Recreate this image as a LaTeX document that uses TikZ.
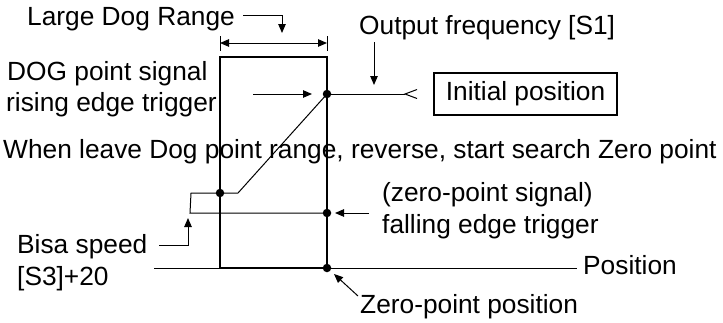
\documentclass[tikz,border=0pt]{standalone}
\usepackage{fontspec}
\setmainfont{Liberation Sans}
\usetikzlibrary{arrows.meta}
\begin{document}
\begin{tikzpicture}[x=1pt,y=-1pt,
  lbl/.style={anchor=base west,inner sep=0pt,font=\fontsize{26.3}{31}\selectfont},
  thin/.style={line width=1pt},
  frame/.style={line width=1.3pt},
  arr/.style={thin,-{Triangle[length=9pt,width=7.5pt]}},
  dot/.style={circle,fill=black,inner sep=0pt,minimum size=8.5pt}]
\useasboundingbox (0,0) rectangle (723,322);
% texts
\node[lbl] (tlarge) at (27,25) {Large Dog Range};
\node[lbl] (tout) at (359,34) {Output frequency [S1]};
\node[lbl] (tdog1) at (7,80) {DOG point signal};
\node[lbl] (tdog2) at (6,111) {rising edge trigger};
\node[lbl] (twhen) at (3,158) {When leave Dog point range, reverse, start search Zero point};
\node[lbl] (tzs) at (382,201) {(zero-point signal)};
\node[lbl] (tfall) at (382,233) {falling edge trigger};
\node[lbl] (tbisa1) at (17,253) {Bisa speed};
\node[lbl] (tbisa2) at (17,285) {[S3]+20};
\node[lbl] (tpos) at (583,274) {Position};
\node[lbl] (tzero) at (360,313) {Zero-point position};
\node[draw,frame,minimum width=183pt,minimum height=42pt,inner sep=0pt,
  font=\fontsize{26.3}{31}\selectfont] (init) at (525.5,94) {Initial position};
% coordinates
\coordinate (boxTL) at (220,57);
\coordinate (boxTR) at (327,57);
\coordinate (boxBL) at (220,268);
\coordinate (boxBR) at (327,268);
\node[dot] (A) at (327,94) {};
\node[dot] (B) at (220,193) {};
\node[dot] (C) at (327,213) {};
\node[dot] (D) at (327,268) {};
% box
\draw[frame] (boxBL) -- (boxTL) -- (boxTR) -- (boxBR) -- cycle;
% position axis
\coordinate (axL) at (154,268);
\coordinate (axR) at (577,268);
\draw[thin] (axL) -- (axR);
% dog range dimension
\coordinate (rL) at (220,43);
\coordinate (rR) at (327,43);
\draw[thin] (220,36) -- (220,51);
\draw[thin] (327,36) -- (327,51);
\draw[thin,{Triangle[length=9pt,width=7.5pt]}-{Triangle[length=9pt,width=7.5pt]}] (rL) -- (rR);
% large dog range pointer
\coordinate (lp1) at (243,15);
\coordinate (lp2) at (282,15);
\coordinate (lp3) at (282,33);
\draw[arr] (lp1) -- (lp2) -- (lp3);
% DOG arrow
\coordinate (dg1) at (253,94);
\coordinate (dg2) at (312,94);
\draw[arr] (dg1) -- (dg2);
% initial line with open tip
\coordinate (tip) at (405,94);
\draw[thin] (A) -- (tip);
\draw[thin] (417,89.5) -- (tip) -- (417,98.5);
% output freq arrow
\coordinate (of1) at (374,42);
\coordinate (of2) at (374,85);
\draw[arr] (of1) -- (of2);
% speed profile
\coordinate (k1) at (238,193);
\coordinate (k2) at (191,193);
\coordinate (k3) at (190,213);
\draw[thin] (A.center) -- (k1) -- (k2) -- (k3) -- (C.center);
% bisa arrow
\coordinate (bs1) at (159,245);
\coordinate (bs2) at (188,245);
\coordinate (bs3) at (188,218);
\draw[arr] (bs1) -- (bs2) -- (bs3);
% falling arrow
\coordinate (fa1) at (369,213);
\coordinate (fa2) at (335,213);
\draw[arr] (fa1) -- (fa2);
% zero arrow
\coordinate (za1) at (358,296);
\coordinate (za2) at (334,274);
\draw[arr] (za1) -- (za2);
\end{tikzpicture}
\end{document}
